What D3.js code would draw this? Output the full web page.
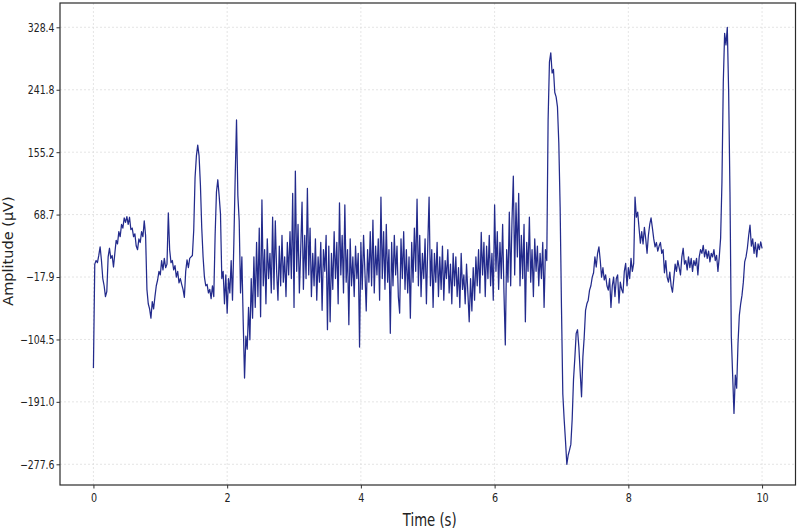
<!DOCTYPE html>
<html>
<head>
<meta charset="utf-8">
<script src="https://cdn.jsdelivr.net/npm/d3@7"></script>
<style>
  body { margin: 0; background: #fff; }
  text { font-family: "DejaVu Sans", sans-serif; fill: #222; }
</style>
</head>
<body>
<svg id="chart" width="799" height="531"></svg>
<script>
const sampleRate = 50;
const amplitude = [
  -144, 0, 5, 2, 12, 24, 5, -20, -30, -45,
  -38, 10, 22, 8, 12, -4, 15, 33, 28, 45,
  38, 55, 50, 64, 58, 66, 55, 65, 48, 50,
  38, 42, 25, 20, 35, 30, 45, 38, 60, 40,
  -35, -55, -62, -75, -52, -62, -45, -30, -22, -10,
  -15, 5, -8, 8, -5, 0, 71, 20, 2, 5,
  -8, -2, -18, -10, -26, -20, -28, -35, -46, -10,
  6, -5, 8, 10, 12, 47, 120, 150, 165, 150,
  110, 50, 10, -18, -30, -28, -40, -35, -48, -30,
  -45, 40, 100, 117, 95, 70, -20, -10, -55, -15,
  -68, -20, -40, 5, -50, 29, 120, 200, 95, 60,
  -40, 10, -80, -158, -100, -118, -60, -105, -20, -75,
  10, -60, 30, -45, 50, -73, 89, -30, 20, -55,
  35, -20, 15, -40, 65, -35, 60, -10, -50, 25,
  -30, 40, -25, 10, -45, 30, -15, 45, -20, 98,
  -60, 129, -10, 55, -40, 20, 86, -35, 40, -20,
  105, -15, 50, -45, 15, -30, 35, -50, 10, -25,
  30, -64, 20, -10, 40, -91, 25, -80, 15, -35,
  45, -20, 30, -55, 85, -15, 40, -40, 82, -25,
  20, -84, 35, -30, 10, -45, 25, -20, 15, -115,
  30, -35, 40, -10, -65, 20, -25, 45, -30, 61,
  -40, 25, -15, 35, -50, 93, -20, 45, -35, 55,
  -25, 20, -96, 30, -30, 40, -15, 25, -45, -68,
  35, -20, 45, -35, 20, -40, 10, -75, 30, -25,
  50, -10, 90, -30, 40, -45, 15, -20, 35, -55,
  25, 93, -30, 20, -60, 15, -25, 30, -45, 10,
  -35, 25, -50, 5, -20, 20, -40, 0, -55, 15,
  -30, 10, -45, -5, -60, 15, -35, -15, -55, 0,
  -40, -80, -20, -65, -5, -50, 10, -30, 20, -40,
  44, -15, 30, -45, 25, -20, 40, -30, 15, -50,
  82, -10, 45, -35, 30, -20, 55, -40, -112, 20,
  -25, 72, -30, 60, 122, -15, 85, 10, 98, -30,
  40, -20, 55, -80, 30, -10, 65, -25, 20, -45,
  35, -10, 25, -30, 15, -20, 30, -60, 20, 5,
  200, 280, 293, 265, 270, 238, 232, 218, 168, 79,
  -60, -180, -215, -245, -277.6, -265, -258, -250, -215, -160,
  -130, -96, -91, -115, -150, -184, -129, -101, -64, -55,
  -50, -36, -30, -18, -12, 10, -4, 15, 24, 5,
  -18, -5, -22, -15, -30, -36, -20, -60, -30, -18,
  -45, -20, -15, -54, -25, -35, -40, -10, 1, -30,
  -5, -20, 8, -10, 1, 93, 65, 72, 50, 29,
  45, 28, 51, 35, 15, 40, 55, 64, 50, 35,
  24, 30, 18, 25, 30, 15, 20, -12, 5, -18,
  -25, -11, -30, -39, -20, 0, -10, 5, -5, -15,
  10, 22, 0, 5, -8, 10, -5, 8, -10, 5,
  -2, 8, -15, 10, 20, 15, 26, 10, 20, 8,
  18, 3, 15, 10, 20, 5, 12, -10, 10, 36,
  114, 252, 320, 304, 328.4, 240, 100, -100, -154, -207,
  -154, -172, -110, -71, -55, -43, -25, 3, 10, 22,
  40, 54, 25, 35, 15, 30, 10, 28, 20, 31,
  22
];
const xTicks = [0, 2, 4, 6, 8, 10];
const yTicks = [-277.6, -191.0, -104.5, -17.9, 68.7, 155.2, 241.8, 328.4];
const xLabel = 'Time (s)';
const yLabel = 'Amplitude (µV)';

const svg = d3.select('#chart');
const plotLeft = 60, plotRight = 795.5, plotTop = 3, plotBottom = 485;

const x = d3.scaleLinear().domain([-0.5, 10.5]).range([plotLeft, plotRight]);
const y = d3.scaleLinear().domain([-306.3, 362.1]).range([plotBottom, plotTop]);

const fmt = v => v.toFixed(1).replace('-', '\u2212');

// grid
const grid = svg.append('g')
    .attr('stroke', '#dedede')
    .attr('stroke-width', 0.8)
    .attr('stroke-dasharray', '2,2');
grid.selectAll('.gx').data(xTicks).enter().append('line')
    .attr('x1', d => x(d)).attr('x2', d => x(d))
    .attr('y1', plotTop).attr('y2', plotBottom);
grid.selectAll('.gy').data(yTicks).enter().append('line')
    .attr('x1', plotLeft).attr('x2', plotRight)
    .attr('y1', d => y(d)).attr('y2', d => y(d));

// signal
const points = amplitude.map((v, i) => [i / sampleRate, v]);
const line = d3.line()
    .x(d => x(d[0]))
    .y(d => y(d[1]));

svg.append('path')
    .datum(points)
    .attr('d', line)
    .attr('fill', 'none')
    .attr('stroke', '#0b1480')
    .attr('stroke-opacity', 0.9)
    .attr('stroke-width', 1.25)
    .attr('stroke-linejoin', 'round');

// frame
svg.append('rect')
    .attr('x', plotLeft).attr('y', plotTop)
    .attr('width', plotRight - plotLeft).attr('height', plotBottom - plotTop)
    .attr('fill', 'none')
    .attr('stroke', '#2a2a2a')
    .attr('stroke-width', 1.2);

// axes
const xAxis = svg.append('g')
    .attr('transform', `translate(0,${plotBottom})`)
    .call(d3.axisBottom(x).tickValues(xTicks).tickSize(3.5).tickFormat(d => d));
const yAxis = svg.append('g')
    .attr('transform', `translate(${plotLeft},0)`)
    .call(d3.axisLeft(y).tickValues(yTicks).tickSize(3.5).tickFormat(fmt));

[xAxis, yAxis].forEach(ax => {
    ax.select('.domain').remove();
    ax.selectAll('.tick line').attr('stroke', '#333');
    ax.selectAll('.tick text')
        .style('font-size', '12px')
        .attr('fill', '#222');
});
// squeeze the tick labels horizontally like the reference
xAxis.selectAll('.tick text').attr('y', 8).attr('dy', '0.71em')
    .attr('transform', 'scale(0.8,1)');
yAxis.selectAll('.tick text').attr('x', -7)
    .attr('transform', 'scale(0.78,1)');

// labels
svg.append('text')
    .attr('transform', `translate(${(plotLeft + plotRight) / 2 + 2},526) scale(0.78,1)`)
    .attr('text-anchor', 'middle')
    .style('font-size', '17px')
    .text(xLabel);

svg.append('text')
    .attr('transform', 'translate(13,251) rotate(-90)')
    .attr('text-anchor', 'middle')
    .style('font-size', '14.5px')
    .text(yLabel);
</script>
</body>
</html>
